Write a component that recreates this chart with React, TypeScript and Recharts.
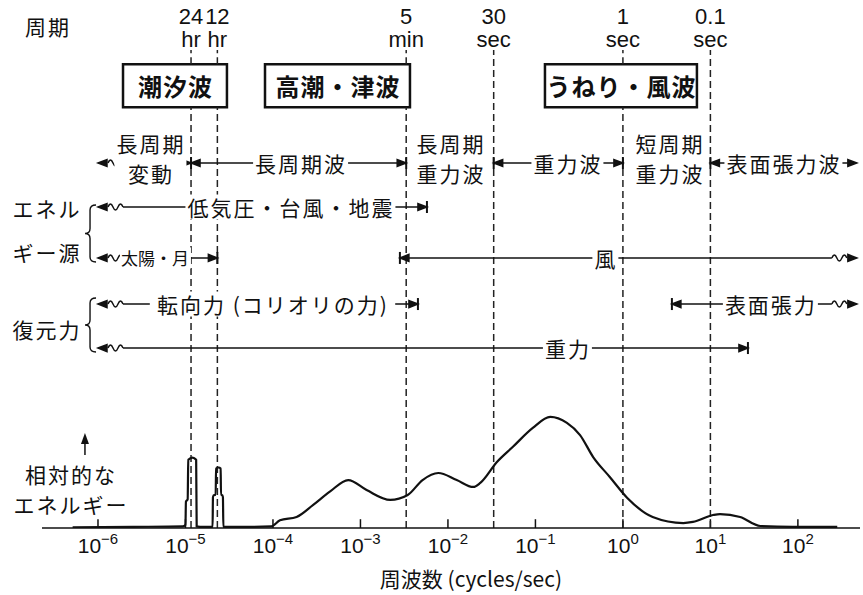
import {
  LineChart,
  Line,
  XAxis,
  YAxis,
  ReferenceLine,
  ReferenceArea,
  ReferenceDot,
} from 'recharts';

const JP = "'Noto Sans CJK JP', 'Noto Sans', sans-serif";
const LATIN = "'Liberation Sans', Arial, sans-serif";
const INK = '#111';

// spectrum: [log10 frequency (cycles/sec), relative energy]
const TIDAL_SPECTRUM: [number, number][] = [
  [-6.29, 0.5], [-5.6, 1], [-5.03, 1.5], [-5.0, 3], [-4.995, 24], [-4.975, 26],
  [-4.968, 62], [-4.92, 64], [-4.878, 62], [-4.872, 1.5], [-4.8, 1], [-4.69, 1],
  [-4.686, 28], [-4.675, 30], [-4.655, 30], [-4.65, 54], [-4.622, 55], [-4.598, 54],
  [-4.594, 30], [-4.58, 30], [-4.572, 28], [-4.567, 1], [-4.3, 1], [-4.02, 1.5],
];
const WAVE_SPECTRUM: [number, number][] = [
  [-3.92, 7], [-3.73, 10], [-3.54, 21], [-3.35, 33], [-3.14, 43.6], [-2.93, 34.5],
  [-2.66, 25.5], [-2.46, 30], [-2.29, 43.6], [-2.11, 50], [-1.9, 43.6], [-1.71, 37.3],
  [-1.63, 41], [-1.44, 60], [-1.26, 73.6], [-1.03, 91], [-0.83, 101], [-0.64, 95.5],
  [-0.49, 84.5], [-0.34, 64.5], [-0.15, 46.4], [0.05, 27.3], [0.34, 10], [0.69, 4.5],
  [0.8, 5.5], [1.03, 11.8], [1.11, 12.7], [1.34, 10], [1.57, 1.8], [1.94, 1], [2.45, 1],
];

const FREQ_TICKS = [-6, -5, -4, -3, -2, -1, 0, 1, 2];

const PERIODS = [
  { value: '24', unit: 'hr', seconds: 86400 },
  { value: '12', unit: 'hr', seconds: 43200 },
  { value: '5', unit: 'min', seconds: 300 },
  { value: '30', unit: 'sec', seconds: 30 },
  { value: '1', unit: 'sec', seconds: 1 },
  { value: '0.1', unit: 'sec', seconds: 0.1 },
];

const logF = (seconds: number) => -Math.log10(seconds);

const WAVE_BOXES = [
  { name: '潮汐波', from: -5.714, to: -4.526 },
  { name: '高潮・津波', from: -4.091, to: -2.434 },
  { name: 'うねり・風波', from: -0.891, to: 0.846 },
];

const X_DOMAIN = [-6.64, 2.71];
const Y_DOMAIN = [0, 480];
const BOX_TOP = 421.5;
const BOX_BOTTOM = 382.5;
const PERIOD_TOP = 434.5;
const PERIOD_TEXT = 454.1;

const ROW_BAND = 331.8;
const ROW_BAND_TEXT = 336.8;
const ROW_PRESSURE = 291.8;
const ROW_SUN = 245.5;
const ROW_CORIOLIS = 203.6;
const ROW_GRAVITY = 163.6;
const LEFT_END = -6.0;
const RIGHT_END = 2.674;

type End = 'arrow' | 'bar' | 'wave';
type Arrow = { y: number; from: number; to: number; left: End; right: End };

const ARROWS: Arrow[] = [
  { y: ROW_BAND, from: LEFT_END, to: logF(86400), left: 'wave', right: 'bar' },
  { y: ROW_BAND, from: logF(86400), to: logF(300), left: 'arrow', right: 'bar' },
  { y: ROW_BAND, from: logF(30), to: logF(1), left: 'bar', right: 'bar' },
  { y: ROW_BAND, from: logF(0.1), to: RIGHT_END, left: 'bar', right: 'arrow' },
  { y: ROW_PRESSURE, from: LEFT_END, to: -2.24, left: 'wave', right: 'bar' },
  { y: ROW_SUN, from: LEFT_END, to: logF(43200), left: 'wave', right: 'bar' },
  { y: ROW_SUN, from: -2.549, to: RIGHT_END, left: 'bar', right: 'wave' },
  { y: ROW_CORIOLIS, from: LEFT_END, to: -2.343, left: 'wave', right: 'bar' },
  { y: ROW_CORIOLIS, from: 0.56, to: RIGHT_END, left: 'bar', right: 'wave' },
  { y: ROW_GRAVITY, from: LEFT_END, to: 1.429, left: 'wave', right: 'bar' },
];

const BRACES = [
  { x: -6.091, top: 293.6, bottom: 241.8 },
  { x: -6.091, top: 209.1, bottom: 160 },
];

type TextItem = {
  x: number;
  y: number;
  lines: string[];
  bg?: boolean;
  size?: number;
  gap?: number;
  spacing?: number;
};

const TEXTS: TextItem[] = [
  { x: -5.406, y: ROW_BAND_TEXT, lines: ['長周期', '変動'], bg: true },
  { x: -3.69, y: ROW_BAND, lines: ['長周期波'], bg: true },
  { x: -1.977, y: ROW_BAND_TEXT, lines: ['長周期', '重力波'] },
  { x: -0.64, y: ROW_BAND, lines: ['重力波'], bg: true },
  { x: 0.526, y: ROW_BAND_TEXT, lines: ['短周期', '重力波'] },
  { x: 1.829, y: ROW_BAND, lines: ['表面張力波'], bg: true },
  { x: -3.806, y: ROW_PRESSURE, lines: ['低気圧・台風・地震'], bg: true },
  { x: -5.349, y: ROW_SUN, lines: ['太陽・月'], bg: true, size: 17, spacing: 0 },
  { x: -0.206, y: ROW_SUN, lines: ['風'], bg: true },
  { x: -4.011, y: ROW_CORIOLIS, lines: ['転向力 (コリオリの力)'], bg: true },
  { x: 1.68, y: ROW_CORIOLIS, lines: ['表面張力'], bg: true },
  { x: -0.64, y: ROW_GRAVITY, lines: ['重力'], bg: true },
  { x: -6.583, y: 456.4, lines: ['周期'] },
  { x: -6.594, y: 270.9, lines: ['エネル', 'ギー源'], gap: 44 },
  { x: -6.594, y: 180.9, lines: ['復元力'] },
  { x: -6.32, y: 35.5, lines: ['相対的な', 'エネルギー'] },
  { x: -1.737, y: -45.5, lines: ['周波数 (cycles/sec)'], spacing: 0 },
];

const spectrum = [...TIDAL_SPECTRUM, ...WAVE_SPECTRUM].map(([f, e]) => ({ f, e }));

const textWidth = (s: string, size: number, spacing: number) =>
  Array.from(s).reduce(
    (w, ch) => w + spacing + (ch.charCodeAt(0) > 0x2e80 ? size : ch === ' ' ? size * 0.3 : size * 0.55),
    0
  );

function TextBlock({ cx, cy, item }: any) {
  const size = item.size ?? 21;
  const gap = item.gap ?? 30;
  const spacing = item.spacing ?? 2;
  const n = item.lines.length;
  const w = Math.max(...item.lines.map((s: string) => textWidth(s, size, spacing)));
  const h = (n - 1) * gap + size;
  return (
    <g>
      {item.bg && (
        <rect x={cx - w / 2 - 1} y={cy - h / 2 - 2} width={w + 3} height={h + 4} fill="#fff" />
      )}
      {item.lines.map((s: string, i: number) => (
        <text
          key={i}
          x={cx + spacing / 2}
          y={cy + (i - (n - 1) / 2) * gap}
          textAnchor="middle"
          dominantBaseline="central"
          fontSize={size}
          fontFamily={JP}
          letterSpacing={spacing}
          fill={INK}
        >
          {s}
        </text>
      ))}
    </g>
  );
}

function BoxTitle({ cx, cy, name }: any) {
  return (
    <text
      x={cx + 0.5}
      y={cy}
      textAnchor="middle"
      dominantBaseline="central"
      fontSize={24}
      fontWeight={700}
      fontFamily={JP}
      letterSpacing={1}
      fill={INK}
    >
      {name}
    </text>
  );
}

function PeriodText({ cx, cy, value, unit }: any) {
  return (
    <g fontFamily={LATIN} fontSize={22} fill={INK} textAnchor="middle">
      <text x={cx} y={cy - 11.5} dominantBaseline="central">{value}</text>
      <text x={cx} y={cy + 11.5} dominantBaseline="central">{unit}</text>
    </g>
  );
}

const HEAD = 9;
const HALF = 3.5;
const WAVE = 15;

const wavePath = (sx: number, y: number, dir: number) =>
  `M${sx},${y} q${dir * 2.5},-6 ${dir * 5},0 t${dir * 5},0 t${dir * 5},0`;

function ArrowShape({ x1, x2, y1, left, right }: any) {
  const y = y1;
  const a = Math.min(x1, x2);
  const b = Math.max(x1, x2);
  const inset = (k: End) => HEAD + (k === 'wave' ? WAVE + 1 : 0);
  return (
    <g stroke={INK} strokeWidth={1.5} fill="none">
      <line x1={a + inset(left)} x2={b - inset(right)} y1={y} y2={y} />
      <polygon points={`${a},${y} ${a + HEAD},${y - HALF} ${a + HEAD},${y + HALF}`} fill={INK} />
      <polygon points={`${b},${y} ${b - HEAD},${y - HALF} ${b - HEAD},${y + HALF}`} fill={INK} />
      {left === 'bar' && <line x1={a} x2={a} y1={y - 6} y2={y + 6} strokeWidth={2} />}
      {right === 'bar' && <line x1={b} x2={b} y1={y - 6} y2={y + 6} strokeWidth={2} />}
      {left === 'wave' && <path d={wavePath(a + HEAD + 1, y, 1)} />}
      {right === 'wave' && <path d={wavePath(b - HEAD - 1, y, -1)} />}
    </g>
  );
}

function BraceShape({ x1, y1, y2 }: any) {
  const x = x1;
  const t = Math.min(y1, y2);
  const u = Math.max(y1, y2);
  const m = (t + u) / 2;
  const d = `M${x + 6},${t} Q${x},${t} ${x},${t + 5} L${x},${m - 5} Q${x},${m} ${x - 5},${m} Q${x},${m} ${x},${m + 5} L${x},${u - 5} Q${x},${u} ${x + 6},${u}`;
  return <path d={d} stroke={INK} strokeWidth={1.4} fill="none" />;
}

function UpArrowShape({ x1, y1, y2 }: any) {
  const t = Math.min(y1, y2);
  const u = Math.max(y1, y2);
  return (
    <g>
      <line x1={x1} x2={x1} y1={t + 8} y2={u} stroke={INK} strokeWidth={1.5} />
      <polygon points={`${x1},${t} ${x1 - 4},${t + 11} ${x1 + 4},${t + 11}`} fill={INK} />
    </g>
  );
}

function FreqTick({ x, y, payload }: any) {
  const n = payload.value;
  return (
    <text x={x} y={y + 17} textAnchor="middle" fontFamily={LATIN} fontSize={21} fill={INK}>
      <tspan>10</tspan>
      <tspan dy={-9} fontSize={15}>{n < 0 ? `−${-n}` : `${n}`}</tspan>
    </text>
  );
}

export default function App() {
  const dashSegments = PERIODS.flatMap((p) => {
    const f = logF(p.seconds);
    const box = WAVE_BOXES.find((b) => f > b.from && f < b.to);
    return box
      ? [
          { f, y1: 0, y2: BOX_BOTTOM },
          { f, y1: BOX_TOP, y2: PERIOD_TOP },
        ]
      : [{ f, y1: 0, y2: PERIOD_TOP }];
  });

  return (
    <div style={{ position: 'absolute', left: 0, top: 0, background: '#fff' }}>
      <LineChart
        width={863}
        height={595}
        data={spectrum}
        margin={{ top: 0, right: 3, bottom: 37, left: 42 }}
      >
        <XAxis
          type="number"
          dataKey="f"
          domain={X_DOMAIN}
          allowDataOverflow
          ticks={FREQ_TICKS}
          interval={0}
          height={30}
          tickLine={false}
          axisLine={{ stroke: INK, strokeWidth: 1.5 }}
          tick={<FreqTick />}
        />
        <YAxis type="number" domain={Y_DOMAIN} allowDataOverflow hide />

        {FREQ_TICKS.map((t) => (
          <ReferenceLine
            key={`tick-${t}`}
            segment={[{ x: t, y: 0 }, { x: t, y: 8 }]}
            stroke={INK}
            strokeWidth={1.5}
            ifOverflow="visible"
          />
        ))}

        {dashSegments.map((s, i) => (
          <ReferenceLine
            key={`dash-${i}`}
            segment={[{ x: s.f, y: s.y1 }, { x: s.f, y: s.y2 }]}
            stroke="#222"
            strokeWidth={1.5}
            strokeDasharray="7 4"
            ifOverflow="visible"
          />
        ))}

        {WAVE_BOXES.map((b) => (
          <ReferenceArea
            key={b.name}
            x1={b.from}
            x2={b.to}
            y1={BOX_BOTTOM}
            y2={BOX_TOP}
            fill="#fff"
            fillOpacity={1}
            stroke={INK}
            strokeWidth={2.5}
            ifOverflow="visible"
          />
        ))}

        {ARROWS.map((a, i) => (
          <ReferenceLine
            key={`arrow-${i}`}
            segment={[{ x: a.from, y: a.y }, { x: a.to, y: a.y }]}
            ifOverflow="visible"
            shape={(p: any) => <ArrowShape {...p} left={a.left} right={a.right} />}
          />
        ))}

        {BRACES.map((b, i) => (
          <ReferenceLine
            key={`brace-${i}`}
            segment={[{ x: b.x, y: b.top }, { x: b.x, y: b.bottom }]}
            ifOverflow="visible"
            shape={(p: any) => <BraceShape {...p} />}
          />
        ))}

        <ReferenceLine
          segment={[{ x: -6.149, y: 66.4 }, { x: -6.149, y: 86.4 }]}
          ifOverflow="visible"
          shape={(p: any) => <UpArrowShape {...p} />}
        />

        <Line
          type="monotone"
          dataKey="e"
          stroke={INK}
          strokeWidth={2.2}
          dot={false}
          activeDot={false}
          isAnimationActive={false}
        />

        {WAVE_BOXES.map((b) => (
          <ReferenceDot
            key={`title-${b.name}`}
            x={(b.from + b.to) / 2}
            y={(BOX_TOP + BOX_BOTTOM) / 2}
            ifOverflow="visible"
            shape={(p: any) => <BoxTitle {...p} name={b.name} />}
          />
        ))}

        {PERIODS.map((p) => (
          <ReferenceDot
            key={`period-${p.value}`}
            x={logF(p.seconds)}
            y={PERIOD_TEXT}
            ifOverflow="visible"
            shape={(q: any) => <PeriodText {...q} value={p.value} unit={p.unit} />}
          />
        ))}

        {TEXTS.map((t, i) => (
          <ReferenceDot
            key={`text-${i}`}
            x={t.x}
            y={t.y}
            ifOverflow="visible"
            shape={(p: any) => <TextBlock {...p} item={t} />}
          />
        ))}
      </LineChart>
    </div>
  );
}
